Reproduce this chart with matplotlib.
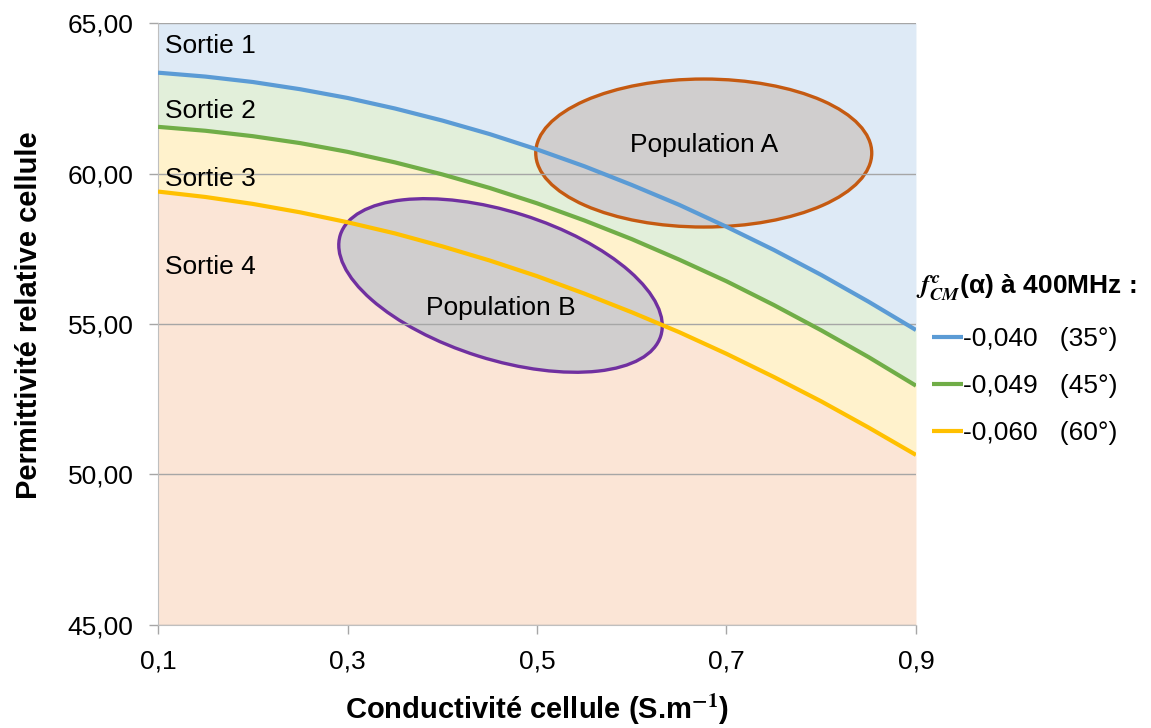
import matplotlib
matplotlib.use("Agg")
import matplotlib.pyplot as plt
from matplotlib.patches import Ellipse
from matplotlib.transforms import ScaledTranslation

plt.rcParams['font.family'] = ['Liberation Sans', 'DejaVu Sans']
plt.rcParams['mathtext.fontset'] = 'stix'

# conductivity (S/m)
x = [0.10, 0.15, 0.20, 0.25, 0.30, 0.35, 0.40, 0.45, 0.50,
     0.55, 0.60, 0.65, 0.70, 0.75, 0.80, 0.85, 0.90]
# iso-curves of f_CM (relative permittivity)
blue = [63.35, 63.22, 63.04, 62.80, 62.51, 62.16, 61.76, 61.31, 60.80,
        60.24, 59.62, 58.96, 58.23, 57.46, 56.63, 55.74, 54.80]
green = [61.55, 61.42, 61.24, 61.01, 60.72, 60.37, 59.97, 59.52, 59.01,
         58.44, 57.82, 57.14, 56.42, 55.63, 54.79, 53.90, 52.95]
yellow = [59.40, 59.22, 58.99, 58.71, 58.38, 58.01, 57.58, 57.11, 56.59,
          56.01, 55.39, 54.73, 54.01, 53.24, 52.43, 51.56, 50.65]
labels = ['-0,040   (35°)', '-0,049   (45°)', '-0,060   (60°)']

xticks = [0.1, 0.3, 0.5, 0.7, 0.9]
yticks = [45, 50, 55, 60, 65]

sorties = ['Sortie 1', 'Sortie 2', 'Sortie 3', 'Sortie 4']
sortie_y = [64.22, 62.08, 59.83, 56.9]

# populations: centre (x, y), rotation
pop_names = ['Population A', 'Population B']
pop_x = [0.676, 0.4615]
pop_y = [60.68, 56.28]
pop_angle = [0, -17.5]
pop_text_y = [60.95, 55.53]
pop_colors = ['#c55a11', '#7030a0']

fig = plt.figure(figsize=(11.51, 7.28), dpi=100)
ax = fig.add_axes([0.1373, 0.1415, 0.6585, 0.8269])

ax.fill_between(x, blue, 65, color='#deeaf6', lw=0, zorder=0)
ax.fill_between(x, green, blue, color='#e2efda', lw=0, zorder=0)
ax.fill_between(x, yellow, green, color='#fff2cc', lw=0, zorder=0)
ax.fill_between(x, 45, yellow, color='#fbe5d6', lw=0, zorder=0)

for px, py, ang, col in zip(pop_x, pop_y, pop_angle, pop_colors):
    tr = fig.dpi_scale_trans + ScaledTranslation(px, py, ax.transData)
    e = Ellipse((0, 0), 3.36, 1.48, angle=ang, transform=tr,
                facecolor='#d0cece', edgecolor=col, lw=2.4, zorder=1.2)
    ax.add_patch(e)

for name, px, py in zip(pop_names, pop_x, pop_text_y):
    ax.text(px, py, name, ha='center', va='center', fontsize=19, zorder=4)

for s, sy in zip(sorties, sortie_y):
    ax.text(0.1074, sy, s, ha='left', va='center', fontsize=19, zorder=4)

l1, = ax.plot(x, blue, color='#5b9bd5', lw=3, zorder=3, solid_capstyle='butt')
l2, = ax.plot(x, green, color='#70ad47', lw=3, zorder=3, solid_capstyle='butt')
l3, = ax.plot(x, yellow, color='#ffc000', lw=3, zorder=3, solid_capstyle='butt')

ax.set_xlim(0.1, 0.9)
ax.set_ylim(45, 65)
ax.set_xticks(xticks)
ax.set_xticklabels([f'{v:.1f}'.replace('.', ',') for v in xticks])
ax.set_yticks(yticks)
ax.set_yticklabels([f'{v:.2f}'.replace('.', ',') for v in yticks])
ax.tick_params(axis='both', labelsize=19, color='#a6a6a6', length=6.5, width=1)
ax.tick_params(axis='x', pad=11)
ax.tick_params(axis='y', pad=11)
ax.yaxis.grid(True, color='#a6a6a6', lw=1)
for sp in ['top', 'right']:
    ax.spines[sp].set_visible(False)
for sp in ['left', 'bottom']:
    ax.spines[sp].set_color('#bfbfbf')

ax.set_xlabel('Conductivité cellule (S.m$^{\\mathbf{-1}}$)', fontsize=21,
              fontweight='bold')
ax.xaxis.set_label_coords(0.5, -0.112)
ax.set_ylabel('Permittivité relative cellule', fontsize=21, fontweight='bold')
ax.yaxis.set_label_coords(-0.152, 0.515)

fig.text(916 / 1151, 1 - 288 / 728,
         '$\\mathbfit{f}^{\\,\\mathbfit{c}}_{\\mathbfit{CM}}$(α) à 400MHz :',
         fontsize=19, fontweight='bold', ha='left', va='center')

leg = ax.legend([l1, l2, l3], labels, loc='upper left',
                bbox_to_anchor=(932 / 1151, 1 - 327 / 728),
                bbox_transform=fig.transFigure, frameon=False,
                fontsize=19, handlelength=1.17, handletextpad=0.0,
                labelspacing=0.88, borderpad=0, borderaxespad=0)

fig.savefig('out.png', dpi=100)
